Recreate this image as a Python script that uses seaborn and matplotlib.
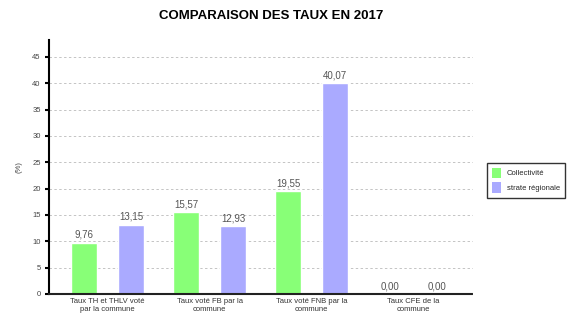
import matplotlib
matplotlib.use("Agg")
import matplotlib.pyplot as plt
import seaborn as sns
import pandas as pd
from matplotlib.patches import Patch

categories = ["Taux TH et THLV voté\npar la commune", "Taux voté FB par la\ncommune",
              "Taux voté FNB par la\ncommune", "Taux CFE de la\ncommune"]
collectivite = [9.76, 15.57, 19.55, 0.00]
strate = [13.15, 12.93, 40.07, 0.00]
series = ["Collectivité", "strate régionale"]
colors = ["#88ff77", "#aaaaff"]
yticks = [0, 5, 10, 15, 20, 25, 30, 35, 40, 45]

df = pd.DataFrame({
    "cat": categories * 2,
    "val": collectivite + strate,
    "serie": [series[0]] * 4 + [series[1]] * 4,
})

sns.set_theme(style="white")
plt.rcParams['font.family'] = ['Liberation Sans', 'DejaVu Sans']

fig = plt.figure(figsize=(5.78, 3.23), dpi=100)
ax = fig.add_axes([49/578, 1-294/323, (473-49)/578, (294-40)/323])

sns.barplot(data=df, x="cat", y="val", hue="serie", palette=colors, ax=ax,
            width=0.92, gap=0.45, legend=False, saturation=1)

for c in ax.containers:
    ax.bar_label(c, labels=[f"{v:.2f}".replace(".", ",") for v in c.datavalues],
                 padding=2, fontsize=7, color="#555555")

ax.set_xlim(-0.574, 3.583)
ax.set_ylim(0, 48.2)
ax.set_yticks(yticks)
ax.set_yticklabels([str(t) for t in yticks], fontsize=5.5, color="#444444")
ax.tick_params(axis="y", length=3, width=1.5, color="black", pad=3, left=True)
ax.tick_params(axis="x", length=0, pad=3, labelsize=5.5, labelcolor="#333333")
ax.set_xlabel("")
ax.set_ylabel("(%)", fontsize=5.5, color="#444444", labelpad=7)
ax.yaxis.grid(True, linestyle=(0, (2.5, 2.5)), color="#c4c4c4", linewidth=0.7)
ax.set_axisbelow(True)
for s in ["top", "right"]:
    ax.spines[s].set_visible(False)
ax.spines["left"].set_color("black")
ax.spines["left"].set_linewidth(1.5)
ax.spines["bottom"].set_color("#222222")
ax.spines["bottom"].set_linewidth(1.5)
ax.spines["bottom"].set_linestyle((0, (3, 1)))

handles = [Patch(facecolor=colors[i], edgecolor="none", label=series[i]) for i in range(2)]
leg = fig.legend(handles=handles, loc="upper left", bbox_to_anchor=(487/578, 1-163/323),
                 borderaxespad=0, fontsize=5.5, frameon=True, fancybox=False, edgecolor="black",
                 handlelength=1.2, handleheight=1.8, borderpad=0.6, labelspacing=0.5)
leg.get_frame().set_linewidth(1.0)

fig.text(271/578, 1-16/323, "COMPARAISON DES TAUX EN 2017", ha="center", va="center",
         fontsize=9.5, fontweight="bold", color="black")

fig.savefig("out.png", dpi=100)
